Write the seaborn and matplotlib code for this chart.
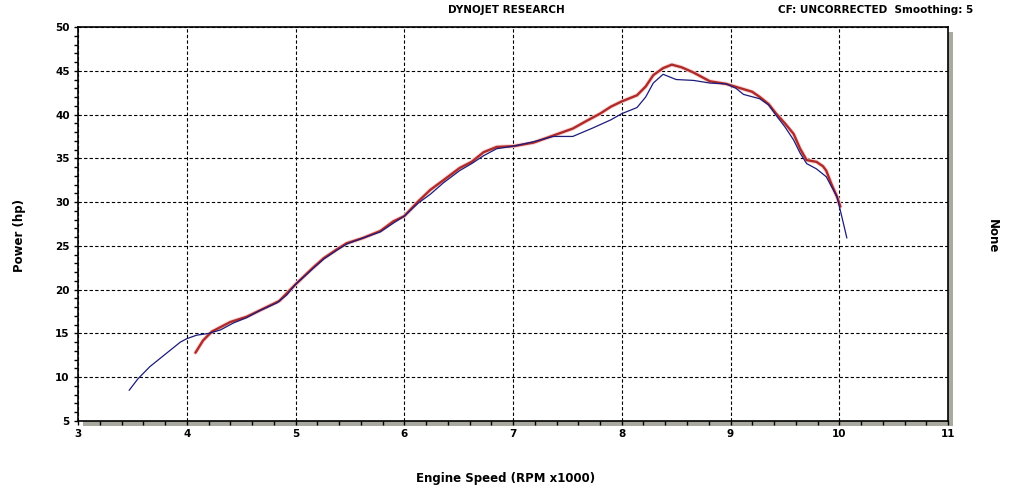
import matplotlib

matplotlib.use("Agg")
import matplotlib.pyplot as plt
import matplotlib.patheffects as pe
from matplotlib.patches import Rectangle
from matplotlib.ticker import MultipleLocator
import numpy as np
import pandas as pd
import seaborn as sns

sns.set_style("white")
plt.rcParams["font.family"] = ["DejaVu Sans"]
plt.rcParams["font.weight"] = "bold"
plt.rcParams["text.color"] = "black"
plt.rcParams["xtick.color"] = "black"
plt.rcParams["ytick.color"] = "black"

# run 1 (thin navy)
blue_rpm = [3.47, 3.55, 3.66, 3.77, 3.85, 3.94, 4.00, 4.09, 4.20, 4.31, 4.43, 4.55,
            4.67, 4.83, 4.92, 5.00, 5.08, 5.16, 5.26, 5.38, 5.47, 5.62, 5.78, 5.90,
            6.00, 6.13, 6.24, 6.36, 6.51, 6.62, 6.73, 6.85, 7.01, 7.19, 7.37, 7.55,
            7.74, 7.90, 8.00, 8.14, 8.22, 8.29, 8.38, 8.44, 8.50, 8.66, 8.81, 8.96,
            9.05, 9.12, 9.27, 9.35, 9.42, 9.50, 9.58, 9.64, 9.70, 9.79, 9.88, 9.98,
            10.03, 10.07]
blue_hp = [8.5, 9.8, 11.2, 12.3, 13.1, 14.0, 14.4, 14.8, 15.0, 15.4, 16.2, 16.8,
           17.6, 18.5, 19.4, 20.6, 21.5, 22.4, 23.5, 24.5, 25.2, 25.9, 26.6, 27.6,
           28.4, 29.9, 30.9, 32.2, 33.6, 34.4, 35.3, 36.1, 36.4, 36.9, 37.5, 37.5,
           38.5, 39.4, 40.1, 40.8, 42.0, 43.6, 44.6, 44.3, 44.0, 43.9, 43.6, 43.5,
           43.0, 42.3, 41.8, 41.1, 39.9, 38.6, 37.1, 35.6, 34.4, 33.8, 32.9, 30.6,
           28.0, 25.9]

# run 2 (thick red)
red_rpm = [4.08, 4.15, 4.23, 4.40, 4.55, 4.70, 4.85, 5.00, 5.16, 5.26, 5.38, 5.47,
           5.62, 5.78, 5.90, 6.00, 6.13, 6.24, 6.36, 6.51, 6.62, 6.73, 6.85, 7.01,
           7.19, 7.37, 7.55, 7.68, 7.80, 7.90, 8.00, 8.14, 8.22, 8.29, 8.38, 8.46,
           8.55, 8.66, 8.81, 8.96, 9.12, 9.20, 9.27, 9.35, 9.42, 9.50, 9.58, 9.64,
           9.70, 9.79, 9.85, 9.88, 9.93, 9.98, 10.01]
red_hp = [12.8, 14.2, 15.2, 16.3, 16.9, 17.8, 18.7, 20.6, 22.5, 23.6, 24.6, 25.3,
          25.9, 26.7, 27.8, 28.4, 30.1, 31.4, 32.5, 33.9, 34.6, 35.7, 36.3, 36.4,
          36.8, 37.6, 38.4, 39.3, 40.1, 40.9, 41.5, 42.2, 43.2, 44.5, 45.3, 45.7,
          45.4, 44.8, 43.8, 43.5, 42.9, 42.6, 42.0, 41.2, 40.1, 39.0, 37.8, 36.1,
          34.8, 34.6, 34.1, 33.6, 32.0, 30.6, 29.5]

x_ticks = [3, 4, 5, 6, 7, 8, 9, 10, 11]
y_ticks = [5, 10, 15, 20, 25, 30, 35, 40, 45, 50]

W, H = 1015, 494
fig = plt.figure(figsize=(W / 100, H / 100), dpi=100)
left, right, top, bottom = 78, 948, 27, 421
ax = fig.add_axes([left / W, 1 - bottom / H, (right - left) / W, (bottom - top) / H])

# drop shadow behind the plot box
fig.add_artist(Rectangle(((left + 5) / W, 1 - (bottom + 5) / H), (right - left) / W,
                         (bottom - top) / H, transform=fig.transFigure,
                         facecolor="#a9a9a0", edgecolor="none", zorder=-1))

df_blue = pd.DataFrame({"rpm": blue_rpm, "hp": blue_hp})
df_red = pd.DataFrame({"rpm": red_rpm, "hp": red_hp})

sns.lineplot(data=df_blue, x="rpm", y="hp", ax=ax, color="#1c1c7a", linewidth=0.9,
             sort=False, estimator=None, zorder=4)
sns.lineplot(data=df_red, x="rpm", y="hp", ax=ax, color="#b02a2a", linewidth=1.7,
             sort=False, estimator=None, zorder=3,
             path_effects=[pe.Stroke(linewidth=3.0, foreground="#f8d2d2"), pe.Normal()])

ax.set_xlim(3, 11)
ax.set_ylim(5, 50)
ax.set_xticks(x_ticks)
ax.set_yticks(y_ticks)
ax.xaxis.set_minor_locator(MultipleLocator(0.2))
ax.yaxis.set_minor_locator(MultipleLocator(1))
ax.tick_params(which="both", direction="out", length=3, width=1, color="black",
               labelcolor="black", bottom=True, left=True, labelsize=7.5, pad=3)
for lab in ax.get_xticklabels() + ax.get_yticklabels():
    lab.set_fontweight("bold")

ax.grid(True, which="major", color="black", linestyle=(0, (3, 2)), linewidth=0.8)
for s in ax.spines.values():
    s.set_visible(True)
    s.set_color("black")
    s.set_linewidth(1.2)

ax.set_xlabel("")
ax.set_ylabel("")
fig.text(506 / W, 1 - 478 / H, "Engine Speed (RPM x1000)", ha="center", va="center",
         fontsize=8.5, fontweight="bold", color="black")
fig.text(20 / W, 1 - 235 / H, "Power (hp)", ha="center", va="center", rotation=90,
         fontsize=8.5, fontweight="bold", color="black")
fig.text(992 / W, 1 - 236 / H, "None", ha="center", va="center", rotation=270,
         fontsize=8.5, fontweight="bold", color="black")
fig.text(506 / W, 1 - 10 / H, "DYNOJET RESEARCH", ha="center", va="center",
         fontsize=7.5, fontweight="bold", color="black")
fig.text(876 / W, 1 - 10 / H, "CF: UNCORRECTED  Smoothing: 5", ha="center",
         va="center", fontsize=7.5, fontweight="bold", color="black")

fig.savefig("out.png", dpi=100, facecolor="white")
